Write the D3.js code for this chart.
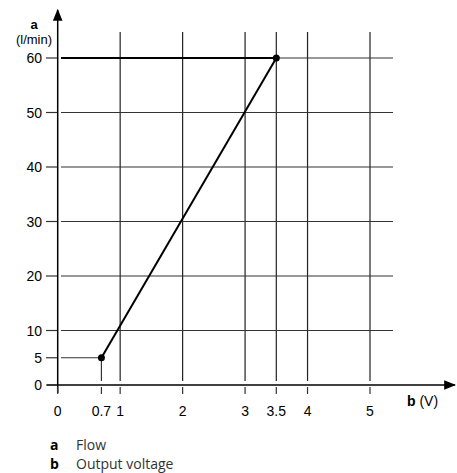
<!DOCTYPE html>
<html>
<head>
<meta charset="utf-8">
<script src="https://cdn.jsdelivr.net/npm/d3@7"></script>
<style>
body { margin: 0; background: #fff; }
text { font-family: "Liberation Sans", Arial, sans-serif; }
</style>
</head>
<body>
<svg id="chart" width="457" height="473"></svg>
<script>
// data
var curveX = [0.7, 3.5];
var curveY = [5, 60];
var xTicks = [0, 0.7, 1, 2, 3, 3.5, 4, 5];
var yTicks = [0, 5, 10, 20, 30, 40, 50, 60];
var xGrid = [1, 2, 3, 3.5, 4, 5];
var yGrid = [10, 20, 30, 40, 50, 60];
var legendKeys = ["a", "b"];
var legendNames = ["Flow", "Output voltage"];

var svg = d3.select("#chart");
var x = d3.scaleLinear().domain([0, 5]).range([57.7, 370]);
var y = d3.scaleLinear().domain([0, 60]).range([385, 58]);

//grid
svg.selectAll(".vg").data(xGrid).enter().append("line")
    .attr("x1", d => x(d)).attr("x2", d => x(d))
    .attr("y1", 32).attr("y2", 381)
    .attr("stroke", "#222").attr("stroke-width", 1.2);
svg.selectAll(".hg").data(yGrid).enter().append("line")
    .attr("x1", 61).attr("x2", 393)
    .attr("y1", d => y(d)).attr("y2", d => y(d))
    .attr("stroke", "#333").attr("stroke-width", 1.2);

// guide lines to the end points
svg.append("line").attr("x1", 61).attr("x2", x(curveX[0]))
    .attr("y1", y(curveY[0])).attr("y2", y(curveY[0]))
    .attr("stroke", "#333").attr("stroke-width", 1.2);
svg.append("line").attr("x1", x(curveX[0])).attr("x2", x(curveX[0]))
    .attr("y1", y(curveY[0])).attr("y2", 381)
    .attr("stroke", "#333").attr("stroke-width", 1.2);
svg.append("line").attr("x1", 61).attr("x2", x(curveX[1]))
    .attr("y1", y(curveY[1])).attr("y2", y(curveY[1]))
    .attr("stroke", "#000").attr("stroke-width", 2);

// axes with arrows
svg.append("defs").append("marker").attr("id", "arr")
    .attr("viewBox", "0 0 10 10").attr("refX", 9).attr("refY", 5)
    .attr("markerWidth", 8).attr("markerHeight", 8).attr("orient", "auto")
    .append("path").attr("d", "M0,1 L10,5 L0,9 Z").attr("fill", "#000");
svg.append("line").attr("x1", x(0)).attr("x2", x(0)).attr("y1", 393).attr("y2", 10)
    .attr("stroke", "#000").attr("stroke-width", 1.5).attr("marker-end", "url(#arr)");
svg.append("line").attr("x1", 47).attr("x2", 455).attr("y1", y(0)).attr("y2", y(0))
    .attr("stroke", "#000").attr("stroke-width", 1.5).attr("marker-end", "url(#arr)");

// ticks
svg.selectAll(".xt").data(xTicks).enter().append("line")
    .attr("x1", d => x(d)).attr("x2", d => x(d)).attr("y1", 387).attr("y2", 394)
    .attr("stroke", "#333").attr("stroke-width", 1.2);
svg.selectAll(".xl").data(xTicks).enter().append("text")
    .attr("x", d => x(d)).attr("y", 416).attr("text-anchor", "middle")
    .attr("font-size", 14).text(d => d);
svg.selectAll(".yt").data(yTicks).enter().append("line")
    .attr("x1", 46).attr("x2", 57).attr("y1", d => y(d)).attr("y2", d => y(d))
    .attr("stroke", "#333").attr("stroke-width", 1.2);
svg.selectAll(".yl").data(yTicks).enter().append("text")
    .attr("x", 42).attr("y", d => y(d) + 5).attr("text-anchor", "end")
    .attr("font-size", 14).text(d => d);

// axis titles
svg.append("text").attr("x", 34).attr("y", 29).attr("text-anchor", "middle")
    .attr("font-size", 13).attr("font-weight", "bold").text("a");
svg.append("text").attr("x", 34).attr("y", 44).attr("text-anchor", "middle")
    .attr("font-size", 13).text("(l/min)");
var bt = svg.append("text").attr("x", 407).attr("y", 406).attr("font-size", 14);
bt.append("tspan").attr("font-weight", "bold").text("b");
bt.append("tspan").text(" (V)");

// curve
var pts = curveX.map((d, i) => [d, curveY[i]]);
svg.append("path").datum(pts)
    .attr("d", d3.line().x(d => x(d[0])).y(d => y(d[1])))
    .attr("fill", "none").attr("stroke", "#000").attr("stroke-width", 2);
svg.selectAll(".pt").data(pts).enter().append("circle")
    .attr("cx", d => x(d[0])).attr("cy", d => y(d[1])).attr("r", 3.5).attr("fill", "#000");

// legend
legendKeys.forEach(function (k, i) {
    svg.append("text").attr("x", 50).attr("y", 450 + i * 19).attr("font-size", 14)
        .attr("font-weight", "bold").style("font-family", "Open Sans, sans-serif").text(k);
    svg.append("text").attr("x", 76).attr("y", 450 + i * 19).attr("font-size", 14)
        .style("font-family", "Open Sans, sans-serif").attr("fill", "#333").text(legendNames[i]);
});
</script>
</body>
</html>
